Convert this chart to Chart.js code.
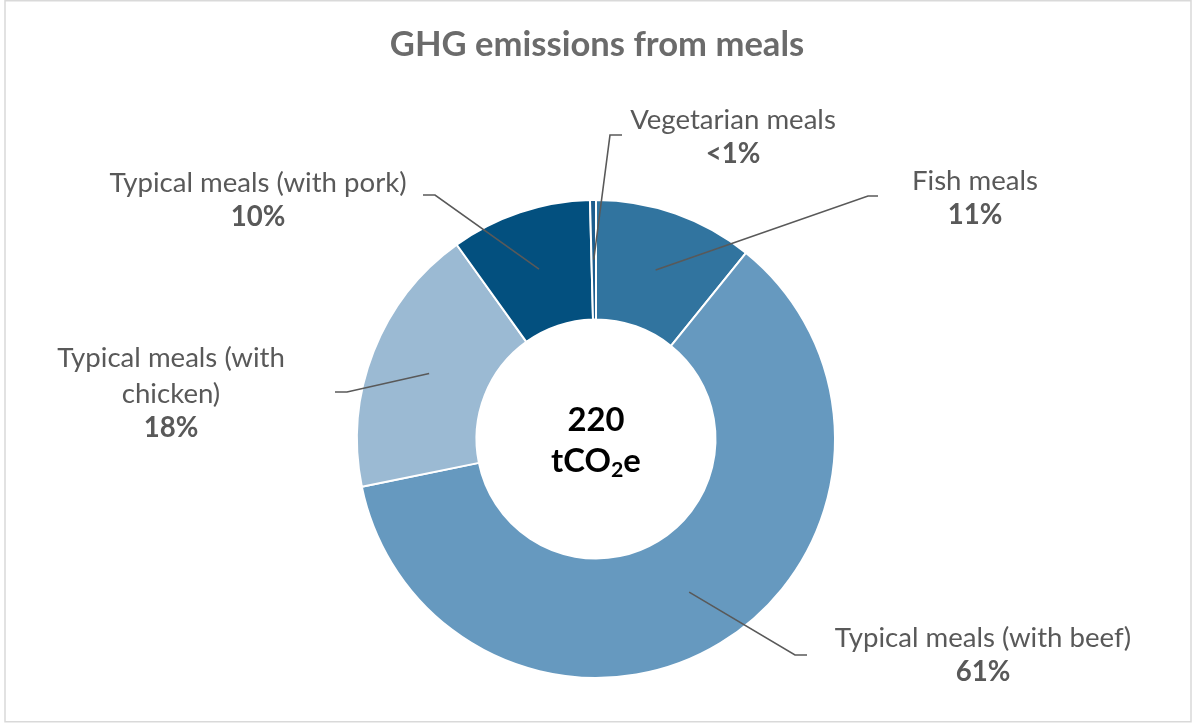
<!DOCTYPE html>
<html>
<head>
<meta charset="utf-8">
<script src="https://cdn.jsdelivr.net/npm/chart.js@4/dist/chart.umd.min.js"></script>
<style>
  html, body { margin: 0; padding: 0; background: #ffffff; }
  #wrap { width: 1192px; height: 724px; position: relative; }
</style>
</head>
<body>
<div id="wrap"><canvas id="c" width="1192" height="724"></canvas></div>
<script>
// ---- data ----
const categories = ['Fish meals', 'Typical meals (with beef)', 'Typical meals (with chicken)', 'Typical meals (with pork)', 'Vegetarian meals'];
const shares = [10.8, 61.0, 18.3, 9.5, 0.4];           // % of total emissions
const totalValue = '220';
const totalUnit = ['tCO', '2', 'e'];
const chartTitle = 'GHG emissions from meals';
const sliceColors = ['#31749f', '#6699bf', '#9bbad3', '#03507f', '#1d5d8e'];

// ---- label layout (wrapping + placement) ----
const FONT = 'Lato, "Open Sans", "Liberation Sans", sans-serif';
const labelLayout = [
  { lines: ['Fish meals'], x: 975, y: 181, elbow: [868, 196], end: [878, 196] },
  { lines: ['Typical meals (with beef)'], x: 983, y: 638, elbow: [795, 655], end: [807, 655] },
  { lines: ['Typical meals (with', 'chicken)'], x: 171, y: 358, elbow: [347, 392], end: [335, 392] },
  { lines: ['Typical meals (with pork)'], x: 258, y: 183, elbow: [435, 195], end: [423, 195] },
  { lines: ['Vegetarian meals'], x: 733, y: 120, elbow: [610, 135], end: [622, 135] }
];

function pctText(v) { return v < 1 ? '<1%' : Math.round(v) + '%'; }

function fitSize(ctx, text, weight, target) {
  ctx.font = weight + ' 100px ' + FONT;
  return 100 * target / ctx.measureText(text).width;
}

const annotations = {
  id: 'annotations',
  beforeDraw(chart) {
    const ctx = chart.ctx;
    ctx.save();
    ctx.fillStyle = '#ffffff';
    ctx.fillRect(0, 0, chart.width, chart.height);
    ctx.strokeStyle = '#d9d9d9';
    ctx.lineWidth = 1.5;
    ctx.strokeRect(5, 0.75, 1186, 721);
    ctx.restore();
  },
  afterDraw(chart) {
    const ctx = chart.ctx;
    const meta = chart.getDatasetMeta(0);
    ctx.save();
    ctx.textAlign = 'center';
    ctx.textBaseline = 'middle';

    // title
    const tSize = fitSize(ctx, chartTitle, 'bold', 415);
    ctx.font = 'bold ' + tSize.toFixed(1) + 'px ' + FONT;
    ctx.fillStyle = '#6b6b6b';
    ctx.fillText(chartTitle, 597, 45);

    // leader lines
    ctx.strokeStyle = '#595959';
    ctx.lineWidth = 1.6;
    meta.data.forEach((arc, i) => {
      const p = arc.getCenterPoint();
      const L = labelLayout[i];
      ctx.beginPath();
      ctx.moveTo(p.x, p.y);
      ctx.lineTo(L.elbow[0], L.elbow[1]);
      ctx.lineTo(L.end[0], L.end[1]);
      ctx.stroke();
    });

    // labels
    const lSize = fitSize(ctx, 'Typical meals (with pork)', 'normal', 297);
    const lineH = 36;
    ctx.fillStyle = '#595959';
    labelLayout.forEach((L, i) => {
      ctx.font = 'normal ' + lSize.toFixed(1) + 'px ' + FONT;
      L.lines.forEach((t, k) => ctx.fillText(t, L.x, L.y + k * lineH));
      ctx.font = 'bold ' + lSize.toFixed(1) + 'px ' + FONT;
      ctx.fillText(pctText(shares[i]), L.x, L.y + L.lines.length * lineH - 2);
    });

    // centre text
    const cx = (chart.chartArea.left + chart.chartArea.right) / 2;
    const cy = (chart.chartArea.top + chart.chartArea.bottom) / 2;
    const cSize = fitSize(ctx, totalValue, 'bold', 57);
    ctx.fillStyle = '#000000';
    ctx.font = 'bold ' + cSize.toFixed(1) + 'px ' + FONT;
    ctx.fillText(totalValue, cx, cy - 19);
    const subSize = cSize * 0.65;
    ctx.font = 'bold ' + cSize.toFixed(1) + 'px ' + FONT;
    const w0 = ctx.measureText(totalUnit[0]).width;
    const w2 = ctx.measureText(totalUnit[2]).width;
    ctx.font = 'bold ' + subSize.toFixed(1) + 'px ' + FONT;
    const w1 = ctx.measureText(totalUnit[1]).width;
    let x = cx - (w0 + w1 + w2) / 2;
    const y = cy + 22;
    ctx.textAlign = 'left';
    ctx.font = 'bold ' + cSize.toFixed(1) + 'px ' + FONT;
    ctx.fillText(totalUnit[0], x, y); x += w0;
    ctx.font = 'bold ' + subSize.toFixed(1) + 'px ' + FONT;
    ctx.fillText(totalUnit[1], x, y + 9); x += w1;
    ctx.font = 'bold ' + cSize.toFixed(1) + 'px ' + FONT;
    ctx.fillText(totalUnit[2], x, y);
    ctx.restore();
  }
};

new Chart(document.getElementById('c'), {
  type: 'doughnut',
  data: {
    labels: categories,
    datasets: [{
      data: shares,
      backgroundColor: sliceColors,
      borderColor: '#ffffff',
      borderWidth: 2,
      hoverOffset: 0
    }]
  },
  options: {
    responsive: false,
    devicePixelRatio: 1,
    animation: false,
    cutout: '50%',
    rotation: 0,
    layout: { padding: { top: 199, bottom: 45, left: 356, right: 356 } },
    plugins: {
      legend: { display: false },
      title: { display: false },
      tooltip: { enabled: false }
    },
    events: []
  },
  plugins: [annotations]
});
</script>
</body>
</html>
